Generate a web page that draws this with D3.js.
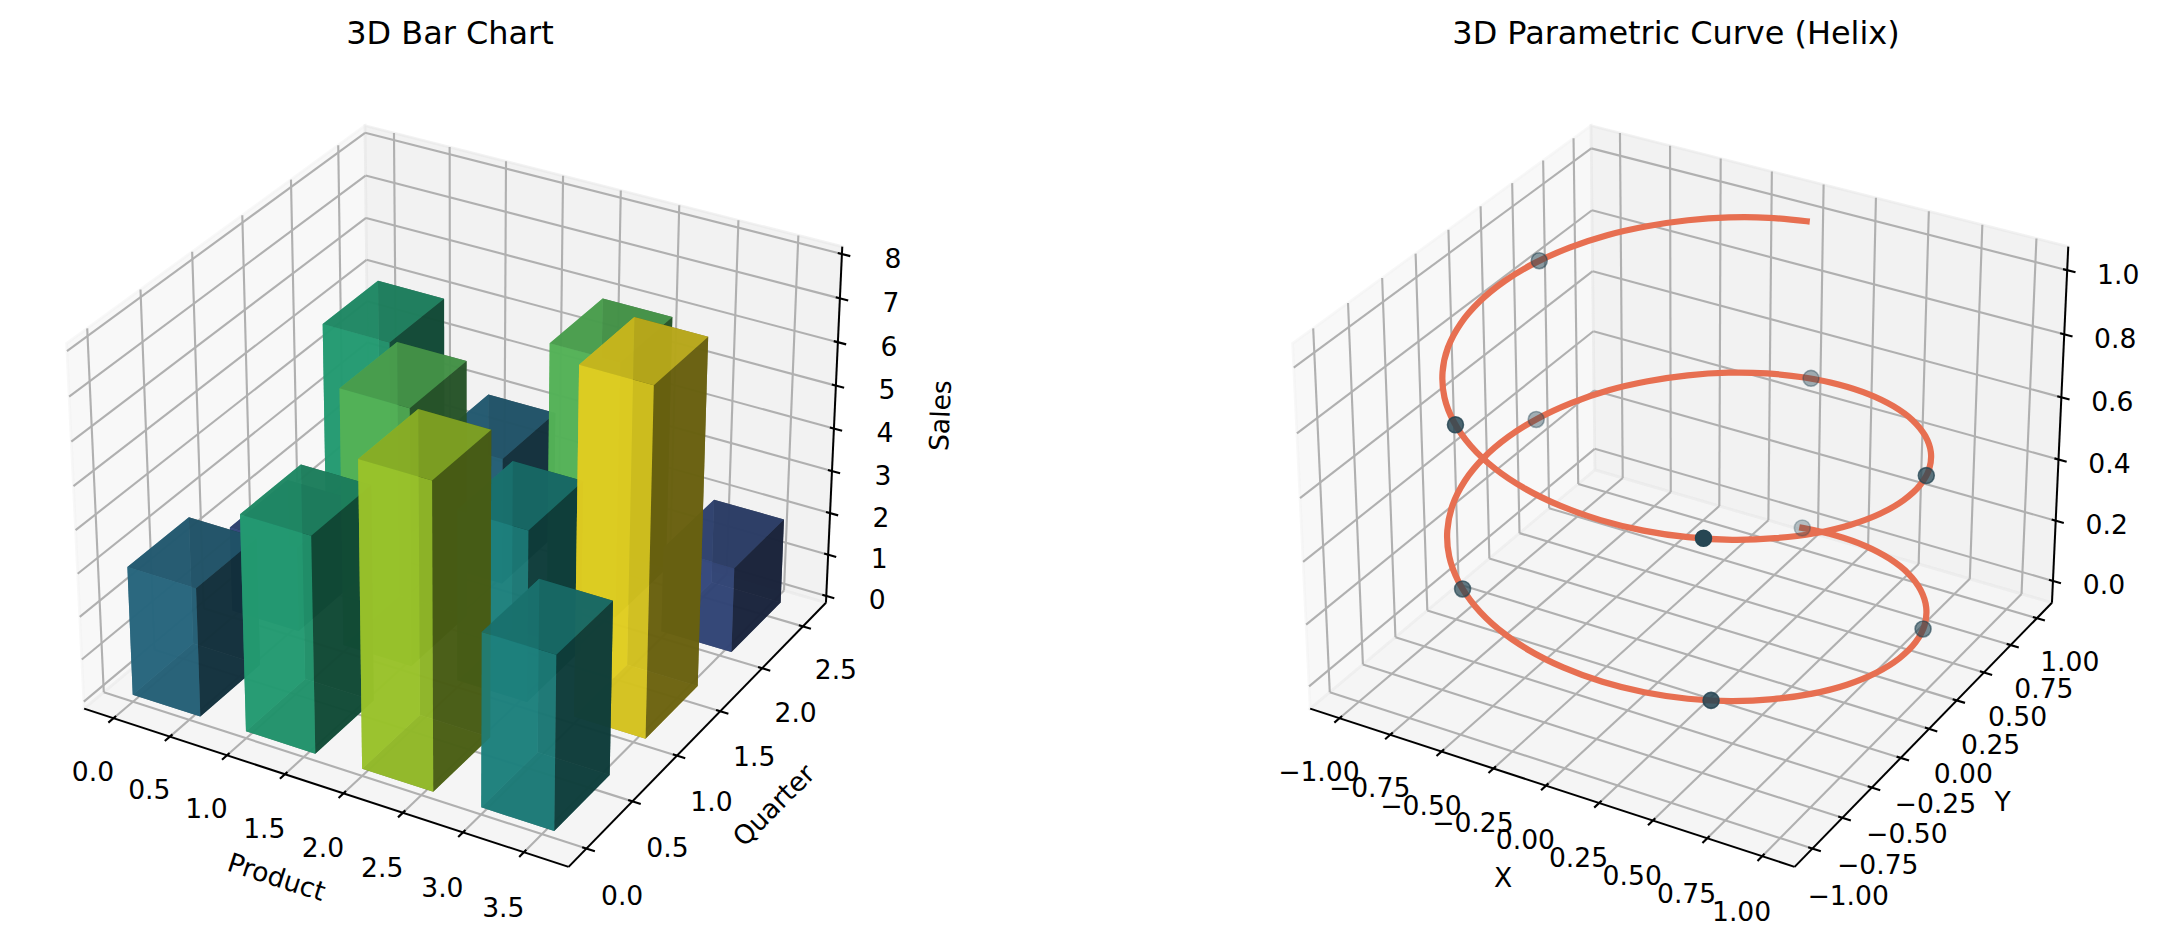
<!DOCTYPE html>
<html>
<head>
<meta charset="utf-8">
<style>
html, body { margin: 0; padding: 0; background: #fff; }
text { font-family: "DejaVu Sans"; fill: #000; }
</style>
<script src="https://cdnjs.cloudflare.com/ajax/libs/d3/7.8.5/d3.min.js"></script>
</head>
<body>
<script>
// bar chart values, one row per quarter
var products = [0, 1, 2, 3];
var quarters = [0, 1, 2];
var salesQ0 = [3, 5, 7, 4];
var salesQ1 = [2, 6, 4, 8];
var salesQ2 = [5, 3, 6, 2];
var barSize = 0.6;

var barXTicks = [0, 0.5, 1, 1.5, 2, 2.5, 3, 3.5];
var barYTicks = [0, 0.5, 1, 1.5, 2, 2.5];
var barZTicks = [0, 1, 2, 3, 4, 5, 6, 7, 8];

// helix, read every 10 degrees of turn
var curveX = [0, .174, .342, .5, .643, .766, .866, .94, .985, 1, .985, .94, .866, .766, .643, .5, .342, .174,
  0, -.174, -.342, -.5, -.643, -.766, -.866, -.94, -.985, -1, -.985, -.94, -.866, -.766, -.643, -.5, -.342, -.174,
  0, .174, .342, .5, .643, .766, .866, .94, .985, 1, .985, .94, .866, .766, .643, .5, .342, .174,
  0, -.174, -.342, -.5, -.643, -.766, -.866, -.94, -.985, -1, -.985, -.94, -.866, -.766, -.643, -.5, -.342, -.174, 0];
var curveY = [1, .985, .94, .866, .766, .643, .5, .342, .174, 0, -.174, -.342, -.5, -.643, -.766, -.866, -.94, -.985,
  -1, -.985, -.94, -.866, -.766, -.643, -.5, -.342, -.174, 0, .174, .342, .5, .643, .766, .866, .94, .985,
  1, .985, .94, .866, .766, .643, .5, .342, .174, 0, -.174, -.342, -.5, -.643, -.766, -.866, -.94, -.985,
  -1, -.985, -.94, -.866, -.766, -.643, -.5, -.342, -.174, 0, .174, .342, .5, .643, .766, .866, .94, .985, 1];
var curveZ = [0, .014, .028, .042, .056, .069, .083, .097, .111, .125, .139, .153, .167, .181, .194, .208, .222, .236,
  .25, .264, .278, .292, .306, .319, .333, .347, .361, .375, .389, .403, .417, .431, .444, .458, .472, .486,
  .5, .514, .528, .542, .556, .569, .583, .597, .611, .625, .639, .653, .667, .681, .694, .708, .722, .736,
  .75, .764, .778, .792, .806, .819, .833, .847, .861, .875, .889, .903, .917, .931, .944, .958, .972, .986, 1];

var dotX = [0, .953, .578, -.603, -.943, .032, .962, .552, -.628, -.932];
var dotY = [1, .303, -.816, -.798, .333, 1, .273, -.834, -.778, .363];
var dotZ = [0, .101, .201, .302, .402, .503, .603, .704, .804, .905];

var helixXTicks = [-1, -0.75, -0.5, -0.25, 0, 0.25, 0.5, 0.75, 1];
var helixYTicks = [-1, -0.75, -0.5, -0.25, 0, 0.25, 0.5, 0.75, 1];
var helixZTicks = [0, 0.2, 0.4, 0.6, 0.8, 1];

var width = 2158, height = 946;
var pt = 2.66;      // px per point of the original figure
var scale = 4662;   // px per projected unit
var cy = 478.4;

// box half sizes for the 4:4:3 aspect, view from elev 30 azim -60
var hx = 0.5952, hy = 0.5952, hz = 0.4464;
var el = 30 * Math.PI / 180, az = -60 * Math.PI / 180;
var W = [Math.cos(el) * Math.cos(az), Math.cos(el) * Math.sin(az), Math.sin(el)];
var U = [-Math.sin(az), Math.cos(az), 0];
var V = [W[1] * U[2] - W[2] * U[1], W[2] * U[0] - W[0] * U[2], W[0] * U[1] - W[1] * U[0]];
var dist = 10;

function dot3(a, b) { return a[0] * b[0] + a[1] * b[1] + a[2] * b[2]; }

function makeProj(cx) {
  var sx = d3.scaleLinear().domain([0, 1]).range([cx, cx + scale]);
  var sy = d3.scaleLinear().domain([0, 1]).range([cy, cy - scale]);
  return function(q) {
    var d = dist - dot3(W, q);
    return {x: sx(dot3(U, q) / d), y: sy(dot3(V, q) / d), tz: -dist / d};
  };
}

var svg = d3.select('body').append('svg')
  .attr('width', width)
  .attr('height', height)
  .style('display', 'block');
svg.append('rect').attr('width', width).attr('height', height).attr('fill', '#fff');

function lineBetween(g, a, b, color, w) {
  g.append('line')
    .attr('x1', a.x).attr('y1', a.y)
    .attr('x2', b.x).attr('y2', b.y)
    .attr('stroke', color)
    .attr('stroke-width', w);
}

// panes, grid, axes lines, ticks and tick labels, as mplot3d does them
function drawFrame(g, proj, o) {
  var P = function(q) { return proj(q); };
  var panes = [
    {pts: [[-hx, -hy, -hz], [-hx, hy, -hz], [-hx, hy, hz], [-hx, -hy, hz]], c: 0.95},
    {pts: [[-hx, hy, -hz], [hx, hy, -hz], [hx, hy, hz], [-hx, hy, hz]], c: 0.90},
    {pts: [[-hx, -hy, -hz], [hx, -hy, -hz], [hx, hy, -hz], [-hx, hy, -hz]], c: 0.925}
  ];
  panes.forEach(function(p) {
    var v = Math.round(p.c * 255);
    g.append('polygon')
      .attr('points', p.pts.map(function(q) { var s = P(q); return s.x + ',' + s.y; }).join(' '))
      .attr('fill', 'rgb(' + v + ',' + v + ',' + v + ')')
      .attr('fill-opacity', 0.5)
      .attr('stroke', 'rgb(' + v + ',' + v + ',' + v + ')')
      .attr('stroke-opacity', 0.5)
      .attr('stroke-width', pt);
  });

  var gridCol = 'rgb(176,176,176)', gridW = 0.8 * pt;
  o.xTicks.forEach(function(t) {
    var x = o.x(t);
    var pts = [[x, -hy, -hz], [x, hy, -hz], [x, hy, hz]].map(P);
    lineBetween(g, pts[0], pts[1], gridCol, gridW);
    lineBetween(g, pts[1], pts[2], gridCol, gridW);
  });
  o.yTicks.forEach(function(t) {
    var y = o.y(t);
    var pts = [[hx, y, -hz], [-hx, y, -hz], [-hx, y, hz]].map(P);
    lineBetween(g, pts[0], pts[1], gridCol, gridW);
    lineBetween(g, pts[1], pts[2], gridCol, gridW);
  });
  o.zTicks.forEach(function(t) {
    var z = o.z(t);
    var pts = [[-hx, -hy, z], [-hx, hy, z], [hx, hy, z]].map(P);
    lineBetween(g, pts[0], pts[1], gridCol, gridW);
    lineBetween(g, pts[1], pts[2], gridCol, gridW);
  });

  var axW = 0.75 * pt, tickW = 0.8 * pt;
  lineBetween(g, P([-hx, -hy, -hz]), P([hx, -hy, -hz]), '#000', axW);
  lineBetween(g, P([hx, -hy, -hz]), P([hx, hy, -hz]), '#000', axW);
  lineBetween(g, P([hx, hy, -hz]), P([hx, hy, hz]), '#000', axW);

  var outY = 0.2 / 12 * 2 * hy, inY = 0.1 / 12 * 2 * hy;
  var outX = 0.2 / 12 * 2 * hx, inX = 0.1 / 12 * 2 * hx;
  var off = 0.085, offZ = 0.087;

  function label(s, str) {
    g.append('text')
      .attr('x', s.x).attr('y', s.y)
      .attr('text-anchor', 'middle')
      .attr('dominant-baseline', 'central')
      .attr('font-size', 10 * pt)
      .text(str);
  }

  o.xTicks.forEach(function(t) {
    var x = o.x(t);
    lineBetween(g, P([x, -hy - outY, -hz]), P([x, -hy + inY, -hz]), '#000', tickW);
    label(P([x, -hy - off, -hz - offZ]), o.xFmt(t));
  });
  o.yTicks.forEach(function(t) {
    var y = o.y(t);
    lineBetween(g, P([hx + outX, y, -hz]), P([hx - inX, y, -hz]), '#000', tickW);
    label(P([hx + off, y, -hz - offZ]), o.yFmt(t));
  });
  o.zTicks.forEach(function(t) {
    var z = o.z(t);
    lineBetween(g, P([hx + outX, hy, z]), P([hx - inX, hy, z]), '#000', tickW);
    var s = P([hx, hy, z]);
    label({x: s.x + 51, y: s.y + 4}, o.zFmt(t));
  });

  function axisLabel(x, y, rot, str) {
    g.append('text')
      .attr('transform', 'translate(' + x + ',' + y + ') rotate(' + rot + ')')
      .attr('text-anchor', 'middle')
      .attr('dominant-baseline', 'central')
      .attr('font-size', 10 * pt)
      .text(str);
  }
  o.labels.forEach(function(l) { axisLabel(l.x, l.y, l.r, l.t); });

  g.append('text')
    .attr('x', o.titleX).attr('y', 33)
    .attr('text-anchor', 'middle')
    .attr('dominant-baseline', 'central')
    .attr('font-size', 12 * pt)
    .text(o.title);
}

// bar chart
var barCx = 461.9;
var barProj = makeProj(barCx);
var bx = d3.scaleLinear().domain([-0.2625, 3.8625]).range([-hx, hx]);
var by = d3.scaleLinear().domain([-0.1896, 2.7896]).range([-hy, hy]);
var bz = d3.scaleLinear().domain([-0.1667, 8.1667]).range([-hz, hz]);

var fmt1 = d3.format('.1f'), fmt0 = d3.format('d');
var left = svg.append('g');
drawFrame(left, barProj, {
  x: bx, y: by, z: bz,
  xTicks: barXTicks, yTicks: barYTicks, zTicks: barZTicks,
  xFmt: fmt1, yFmt: fmt1, zFmt: fmt0,
  title: '3D Bar Chart', titleX: 450,
  labels: [
    {x: 276.6, y: 876.7, r: 18, t: 'Product'},
    {x: 773.5, y: 805, r: -45, t: 'Quarter'},
    {x: 940, y: 415.6, r: -87.5, t: 'Sales'}
  ]
});

// matplotlib light source, az 225 alt 19.47
var light = [-2 / 3, -2 / 3, 1 / 3];
function shadeOf(n) { return 0.3 + 0.7 * (dot3(n, light) + 1) / 2; }

var faces = [];
[salesQ0, salesQ1, salesQ2].forEach(function(row, qi) {
  row.forEach(function(v, pi) {
    var x0 = bx(products[pi]), x1 = bx(products[pi] + barSize);
    var y0 = by(quarters[qi]), y1 = by(quarters[qi] + barSize);
    var z0 = bz(0), z1 = bz(v);
    var base = d3.rgb(d3.interpolateViridis(v / 8));
    var cube = [
      {n: [0, 0, -1], q: [[x0, y0, z0], [x0, y1, z0], [x1, y1, z0], [x1, y0, z0]]},
      {n: [0, 0, 1], q: [[x0, y0, z1], [x1, y0, z1], [x1, y1, z1], [x0, y1, z1]]},
      {n: [0, -1, 0], q: [[x0, y0, z0], [x1, y0, z0], [x1, y0, z1], [x0, y0, z1]]},
      {n: [0, 1, 0], q: [[x0, y1, z0], [x0, y1, z1], [x1, y1, z1], [x1, y1, z0]]},
      {n: [-1, 0, 0], q: [[x0, y0, z0], [x0, y0, z1], [x0, y1, z1], [x0, y1, z0]]},
      {n: [1, 0, 0], q: [[x1, y0, z0], [x1, y1, z0], [x1, y1, z1], [x1, y0, z1]]}
    ];
    cube.forEach(function(f) {
      var s = f.q.map(barProj);
      var k = shadeOf(f.n);
      faces.push({
        pts: s,
        depth: d3.mean(s, function(p) { return p.tz; }),
        color: d3.rgb(base.r * k, base.g * k, base.b * k)
      });
    });
  });
});
faces.sort(function(a, b) { return d3.descending(a.depth, b.depth); });

left.append('g').selectAll('polygon')
  .data(faces)
  .join('polygon')
  .attr('points', function(d) { return d.pts.map(function(p) { return p.x + ',' + p.y; }).join(' '); })
  .attr('fill', function(d) { return d.color; })
  .attr('fill-opacity', 0.85);

// helix
var helixCx = 461.9 + 1226;
var helixProj = makeProj(helixCx);
var hxs = d3.scaleLinear().domain([-1.1458, 1.1458]).range([-hx, hx]);
var hys = d3.scaleLinear().domain([-1.1458, 1.1458]).range([-hy, hy]);
var hzs = d3.scaleLinear().domain([-0.0729, 1.0729]).range([-hz, hz]);

var fmt2 = function(t) { return d3.format('.2f')(t).replace('-', '\u2212'); };
var right = svg.append('g');
drawFrame(right, helixProj, {
  x: hxs, y: hys, z: hzs,
  xTicks: helixXTicks, yTicks: helixYTicks, zTicks: helixZTicks,
  xFmt: fmt2, yFmt: fmt2, zFmt: fmt1,
  title: '3D Parametric Curve (Helix)', titleX: 1676,
  labels: [
    {x: 1503, y: 877, r: 0, t: 'X'},
    {x: 2002.6, y: 801, r: 0, t: 'Y'}
  ]
});

var line = d3.line()
  .x(function(d) { return d.x; })
  .y(function(d) { return d.y; })
  .curve(d3.curveCatmullRom);
var curvePts = curveX.map(function(x, i) {
  return helixProj([hxs(x), hys(curveY[i]), hzs(curveZ[i])]);
});
right.append('path')
  .attr('d', line(curvePts))
  .attr('fill', 'none')
  .attr('stroke', '#e76f51')
  .attr('stroke-width', 2.35 * pt)
  .attr('stroke-linecap', 'square');

// depth shading of the markers
var dots = dotX.map(function(x, i) {
  return helixProj([hxs(x), hys(dotY[i]), hzs(dotZ[i])]);
});
var dz = d3.scaleLinear().domain(d3.extent(dots, function(d) { return d.tz; })).range([1, 0.3]);
dots.sort(function(a, b) { return d3.descending(a.tz, b.tz); });
right.append('g').selectAll('circle')
  .data(dots)
  .join('circle')
  .attr('cx', function(d) { return d.x; })
  .attr('cy', function(d) { return d.y; })
  .attr('r', Math.sqrt(36) / 2 * pt)
  .attr('fill', '#264653')
  .attr('fill-opacity', function(d) { return dz(d.tz); })
  .attr('stroke', '#264653')
  .attr('stroke-opacity', function(d) { return dz(d.tz); })
  .attr('stroke-width', 0.6 * pt);
</script>
</body>
</html>
